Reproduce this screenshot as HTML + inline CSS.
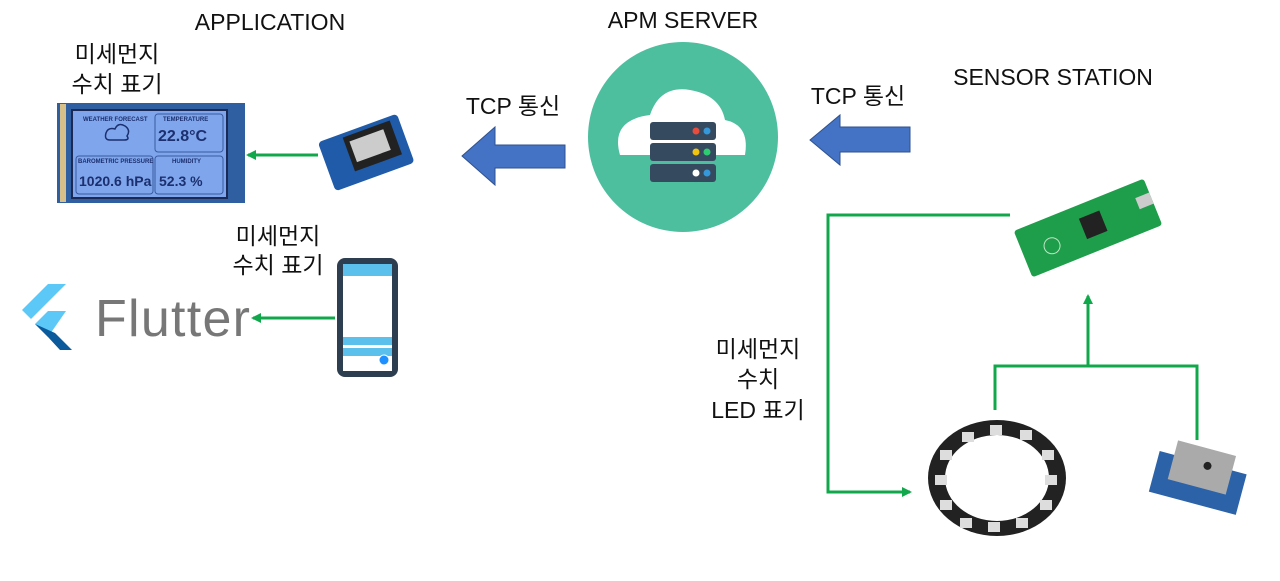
<!DOCTYPE html>
<html><head><meta charset="utf-8"><style>
html,body{margin:0;padding:0;background:#fff;}
svg{display:block;font-family:"Liberation Sans","Noto Sans CJK KR",sans-serif;}
</style></head><body>
<svg width="1280" height="581" viewBox="0 0 1280 581" xmlns="http://www.w3.org/2000/svg">
<defs>
<marker id="g" markerWidth="10" markerHeight="10" refX="8" refY="5" orient="auto" markerUnits="userSpaceOnUse"><path d="M0,0 L10,5 L0,10 Z" fill="#11a84b"/></marker>
</defs>
<g font-size="23" fill="#111">
<text x="270" y="30" text-anchor="middle">APPLICATION</text>
<text x="683" y="28" text-anchor="middle">APM SERVER</text>
<text x="1053" y="85" text-anchor="middle">SENSOR STATION</text>
<text x="117" y="62" text-anchor="middle">미세먼지</text>
<text x="117" y="92" text-anchor="middle">수치 표기</text>
<text x="278" y="244" text-anchor="middle">미세먼지</text>
<text x="278" y="273" text-anchor="middle">수치 표기</text>
<text x="513" y="114" text-anchor="middle">TCP 통신</text>
<text x="858" y="104" text-anchor="middle">TCP 통신</text>
<text x="758" y="357" text-anchor="middle">미세먼지</text>
<text x="758" y="387" text-anchor="middle">수치</text>
<text x="758" y="418" text-anchor="middle">LED 표기</text>
</g>
<!-- LCD -->
<rect x="57" y="103" width="188" height="100" fill="#2f5fa0"/>
<rect x="60" y="104" width="6" height="98" fill="#d8c08a"/>
<rect x="72" y="110" width="155" height="88" fill="#7fa6ec" stroke="#1a2a55" stroke-width="2"/>
<rect x="155" y="114" width="68" height="38" rx="3" fill="none" stroke="#3a5aa0"/>
<rect x="76" y="156" width="77" height="38" rx="3" fill="none" stroke="#3a5aa0"/>
<rect x="155" y="156" width="68" height="38" rx="3" fill="none" stroke="#3a5aa0"/>
<g fill="#1c2f6e" font-weight="bold">
<text x="83" y="121" font-size="6">WEATHER FORECAST</text>
<text x="163" y="121" font-size="6">TEMPERATURE</text>
<text x="78" y="163" font-size="6">BAROMETRIC PRESSURE</text>
<text x="172" y="163" font-size="6">HUMIDITY</text>
<text x="158" y="141" font-size="16">22.8°C</text>
<text x="79" y="186" font-size="14">1020.6 hPa</text>
<text x="159" y="186" font-size="14">52.3 %</text>
</g>
<path d="M110 140 q-6 0 -4 -7 q2 -6 9 -4 q3 -7 10 -3 q6 4 2 10 q3 4 -3 4 z" fill="none" stroke="#1c2f6e" stroke-width="1.5"/>
<!-- ESP -->
<g transform="translate(365,155) rotate(-20)">
<rect x="-40" y="-28" width="84" height="52" rx="4" fill="#1f5ba8"/>
<rect x="-15" y="-24" width="50" height="36" fill="#222"/>
<rect x="-10" y="-18" width="36" height="22" fill="#ccc"/>
</g>
<line x1="318" y1="155" x2="248" y2="155" stroke="#11a84b" stroke-width="3" marker-end="url(#g)"/>
<!-- Blue arrows -->
<path d="M565 145 L495 145 L495 127 L462 156 L495 185 L495 168 L565 168 Z" fill="#4472c4" stroke="#2f528f"/>
<path d="M910 127 L840 127 L840 115 L810 140 L840 165 L840 152 L910 152 Z" fill="#4472c4" stroke="#2f528f"/>
<!-- Cloud server -->
<circle cx="683" cy="137" r="95" fill="#4dbf9e"/>
<path d="M620 155 q-10 -35 30 -40 q10 -30 40 -25 q30 5 35 30 q25 5 20 35 z" fill="#fff"/>
<rect x="650" y="122" width="66" height="18" rx="3" fill="#354a5f"/>
<rect x="650" y="143" width="66" height="18" rx="3" fill="#354a5f"/>
<rect x="650" y="164" width="66" height="18" rx="3" fill="#354a5f"/>
<circle cx="696" cy="131" r="3.5" fill="#e74c3c"/><circle cx="707" cy="131" r="3.5" fill="#3498db"/>
<circle cx="696" cy="152" r="3.5" fill="#f1c40f"/><circle cx="707" cy="152" r="3.5" fill="#2ecc71"/>
<circle cx="696" cy="173" r="3.5" fill="#fff"/><circle cx="707" cy="173" r="3.5" fill="#3498db"/>
<!-- Phone -->
<rect x="337" y="258" width="61" height="119" rx="8" fill="#2d3e50"/>
<rect x="343" y="264" width="49" height="107" fill="#fff"/>
<rect x="343" y="264" width="49" height="12" fill="#5bc0eb"/>
<rect x="343" y="337" width="49" height="8" fill="#5bc0eb"/>
<rect x="343" y="348" width="49" height="8" fill="#5bc0eb"/>
<circle cx="384" cy="360" r="5" fill="#1e90ff" stroke="#fff"/>
<line x1="335" y1="318" x2="253" y2="318" stroke="#11a84b" stroke-width="3" marker-end="url(#g)"/>
<!-- Flutter -->
<path d="M48 284 L66 284 L31 319 L22 310 Z" fill="#5cc8f8"/>
<path d="M66 311 L48 311 L35 324 L48 337 Z" fill="#5cc8f8"/>
<path d="M35 324 L48 337 L60 350 L72 350 L55 333 Z" fill="#0a5a9c"/>
<text x="95" y="336" font-size="52" fill="#777" textLength="155">Flutter</text>
<!-- Sensor tree -->
<polyline points="1010,215 828,215 828,492 910,492" fill="none" stroke="#11a84b" stroke-width="3" marker-end="url(#g)"/>
<polyline points="995,410 995,366 1197,366 1197,440" fill="none" stroke="#11a84b" stroke-width="3"/>
<line x1="1088" y1="366" x2="1088" y2="296" stroke="#11a84b" stroke-width="3" marker-end="url(#g)"/>
<!-- Pico -->
<g transform="translate(1088,228) rotate(-22)">
<rect x="-70" y="-25" width="140" height="50" rx="3" fill="#1e9e4a"/>
<rect x="-5" y="-12" width="22" height="22" fill="#222"/>
<rect x="55" y="-10" width="15" height="12" fill="#ccc"/>
<circle cx="-40" cy="3" r="8" fill="none" stroke="#bfe6c5"/>
</g>
<!-- Ring -->
<ellipse cx="997" cy="478" rx="69" ry="58" fill="#222"/>
<ellipse cx="997" cy="478" rx="52" ry="43" fill="#fff"/>
<g fill="#ddd">
<rect x="990" y="425" width="12" height="10"/><rect x="1020" y="430" width="12" height="10"/><rect x="1042" y="450" width="12" height="10"/>
<rect x="1045" y="475" width="12" height="10"/><rect x="1040" y="500" width="12" height="10"/><rect x="1016" y="518" width="12" height="10"/>
<rect x="988" y="522" width="12" height="10"/><rect x="960" y="518" width="12" height="10"/><rect x="940" y="500" width="12" height="10"/>
<rect x="935" y="475" width="12" height="10"/><rect x="940" y="450" width="12" height="10"/><rect x="962" y="432" width="12" height="10"/>
</g>
<!-- Dust sensor -->
<g transform="translate(1198,482) rotate(15)">
<rect x="-45" y="-20" width="90" height="42" fill="#2b62a8"/>
<rect x="-30" y="-35" width="60" height="40" fill="#aaa"/>
<circle cx="5" cy="-18" r="4" fill="#222"/>
</g>
</svg>
</body></html>
